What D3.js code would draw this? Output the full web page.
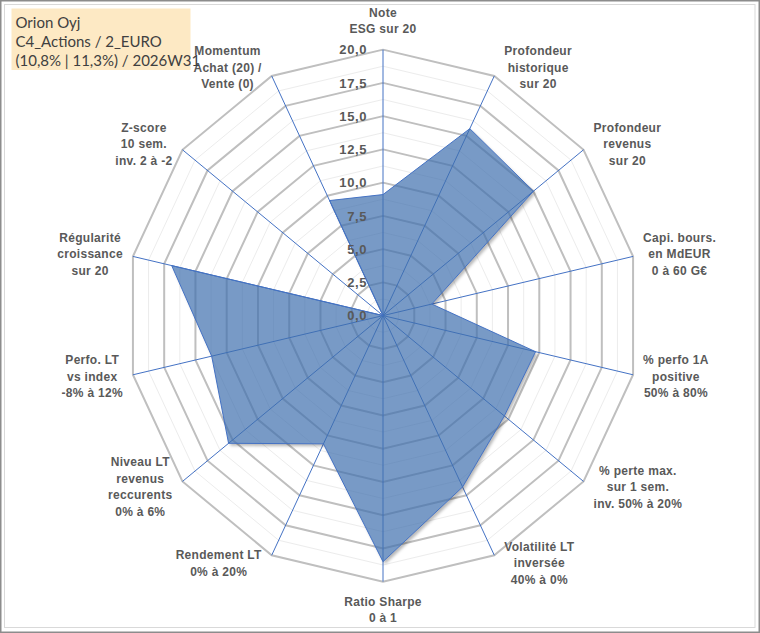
<!DOCTYPE html>
<html>
<head>
<meta charset="utf-8">
<script src="https://cdn.jsdelivr.net/npm/d3@7"></script>
<style>
  html, body { margin: 0; padding: 0; background: #fff; }
  svg { display: block; }
</style>
</head>
<body>
<div id="chart"></div>
<script>
// categories, clockwise from the top
const categories = [
    ['Note', 'ESG sur 20'],
    ['Profondeur', 'historique', 'sur 20'],
    ['Profondeur', 'revenus', 'sur 20'],
    ['Capi. bours.', 'en MdEUR', '0 à 60 G€'],
    ['% perfo 1A', 'positive', '50% à 80%'],
    ['% perte max.', 'sur 1 sem.', 'inv. 50% à 20%'],
    ['Volatilité LT', 'inversée', '40% à 0%'],
    ['Ratio Sharpe', '0 à 1'],
    ['Rendement LT', '0% à 20%'],
    ['Niveau LT', 'revenus', 'reccurents', '0% à 6%'],
    ['Perfo. LT', 'vs index', '-8% à 12%'],
    ['Régularité', 'croissance', 'sur 20'],
    ['Z-score', '10 sem.', 'inv. 2 à -2'],
    ['Momentum', 'Achat (20) /', 'Vente (0)']
]
// scores sur 20
const scores = [9.1, 15.6, 15.0, 3.9, 12.2, 12.1, 14.3, 18.5, 10.7, 15.4, 13.7, 16.9, 0, 9.6]
const tickValues = [0, 2.5, 5, 7.5, 10, 12.5, 15, 17.5, 20]
const minorValues = [1.25, 3.75, 6.25, 8.75, 11.25, 13.75, 16.25, 18.75]
const titleLines = ['Orion Oyj', 'C4_Actions / 2_EURO', '(10,8% | 11,3%) / 2026W31']

const width = 760
const height = 633
const cx = 383, cy = 315.6
const color = '#4472c4'

const svg = d3.select('#chart').append('svg')
    .attr('width', width)
    .attr('height', height)

// frame
svg.append('rect')
    .attr('x', 0.75).attr('y', 0.75).attr('width', width - 1.5).attr('height', height - 1.5)
    .attr('fill', '#fff').attr('stroke', '#8c8c8c').attr('stroke-width', 1.5)
svg.append('rect')
    .attr('x', 4.5).attr('y', 4.5).attr('width', width - 9.5).attr('height', height - 10)
    .attr('fill', 'none').attr('stroke', '#d9d9d9')

// the plot is slightly narrower than tall in the picture
const rx = d3.scaleLinear().domain([0, 20]).range([0, 256.5])
const ry = d3.scaleLinear().domain([0, 20]).range([0, 266])
const angle = d3.scaleLinear().domain([0, categories.length]).range([0, 2 * Math.PI])

const pt = (i, v) => [cx + rx(v) * Math.sin(angle(i)), cy - ry(v) * Math.cos(angle(i))]
const ring = v => d3.line()(d3.range(categories.length + 1).map(i => pt(i % categories.length, v)))
const seriesPath = d3.line()(scores.map((v, i) => pt(i, v))) + 'Z'

const defs = svg.append('defs')
const blur = defs.append('filter').attr('id', 'blur')
    .attr('x', '-10%').attr('y', '-10%').attr('width', '120%').attr('height', '120%')
blur.append('feGaussianBlur').attr('stdDeviation', 1.8)
// the shadow only shows outside the series, not through it
const mask = defs.append('mask').attr('id', 'outside')
    .attr('maskUnits', 'userSpaceOnUse')
    .attr('x', 0).attr('y', 0).attr('width', width).attr('height', height)
mask.append('rect').attr('width', width).attr('height', height).attr('fill', '#fff')
mask.append('path').attr('d', seriesPath).attr('fill', '#000')

const grid = svg.append('g').attr('class', 'grid')
grid.selectAll('.minor')
    .data(minorValues)
    .join('path')
    .attr('class', 'minor')
    .attr('d', ring)
    .attr('fill', 'none')
    .attr('stroke', '#ececec')
    .attr('stroke-width', 1)
grid.selectAll('.major')
    .data(tickValues.filter(d => d > 0))
    .join('path')
    .attr('class', 'major')
    .attr('d', ring)
    .attr('fill', 'none')
    .attr('stroke', '#bfbfbf')
    .attr('stroke-width', 2)

// spokes
svg.append('g').attr('class', 'spokes')
    .selectAll('line')
    .data(categories)
    .join('line')
    .attr('x1', cx).attr('y1', cy)
    .attr('x2', (d, i) => pt(i, 20)[0])
    .attr('y2', (d, i) => pt(i, 20)[1])
    .attr('stroke', color)
    .attr('stroke-width', 1)

// series shadow + series
svg.append('g').attr('mask', 'url(#outside)')
    .append('path')
    .attr('d', seriesPath)
    .attr('transform', 'translate(2,2.5)')
    .attr('fill', '#000')
    .attr('fill-opacity', 0.28)
    .attr('filter', 'url(#blur)')
svg.append('path')
    .datum(scores)
    .attr('d', seriesPath)
    .attr('fill', '#3f6fae')
    .attr('fill-opacity', 0.7)
    .attr('stroke', color)
    .attr('stroke-width', 1)

// tick labels
const fmt = d3.format('.1f')
svg.append('g').attr('class', 'ticks')
    .selectAll('text')
    .data(tickValues)
    .join('text')
    .attr('x', cx - 16)
    .attr('y', d => cy - ry(d))
    .attr('dy', '0.36em')
    .attr('text-anchor', 'end')
    .attr('font-family', '"Liberation Sans", Arial, sans-serif')
    .attr('font-size', 13)
    .attr('font-weight', 'bold')
    .attr('letter-spacing', 0.6)
    .attr('fill', '#595959')
    .text(d => fmt(d).replace('.', ','))

// category labels
const lineH = 16.5
const labels = svg.append('g').attr('class', 'labels')
categories.forEach((lines, i) => {
    const [ex, ey] = pt(i, 20)
    const s = Math.sin(angle(i)), c = Math.cos(angle(i))
    const g = labels.append('g')
    const t = g.append('text')
        .attr('text-anchor', 'middle')
        .attr('font-family', '"Liberation Sans", Arial, sans-serif')
        .attr('font-size', 12)
        .attr('font-weight', 'bold')
        .attr('letter-spacing', 0.3)
        .attr('fill', '#595959')
    t.selectAll('tspan')
        .data(lines)
        .join('tspan')
        .attr('x', 0)
        .attr('y', (d, j) => j * lineH)
        .text(d => d)
    const w = d3.max(t.selectAll('tspan').nodes(), n => n.getComputedTextLength())
    const h = lines.length * lineH
    let bx, by // centre of the label block
    if (Math.abs(s) < 0.01) {
        bx = ex
        by = c > 0 ? ey - 12 - h / 2 : ey + 12 + h / 2
    } else {
        bx = s > 0 ? ex + 10 + w / 2 : ex - 10 - w / 2
        by = ey - 9 * c
    }
    g.attr('transform', `translate(${bx},${by - h / 2 + lineH / 2 + 4})`)
})

// title box
const tb = svg.append('g').attr('class', 'title')
tb.append('rect')
    .attr('x', 11.5).attr('y', 8.5).attr('width', 179).attr('height', 61.5)
    .attr('fill', '#fde9c4')
tb.selectAll('text')
    .data(titleLines)
    .join('text')
    .attr('x', 15.5)
    .attr('y', (d, i) => 27.5 + i * 19)
    .attr('font-family', 'Lato, "Open Sans", sans-serif')
    .attr('font-size', 15)
    .attr('fill', '#404040')
    .text(d => d)
</script>
</body>
</html>
